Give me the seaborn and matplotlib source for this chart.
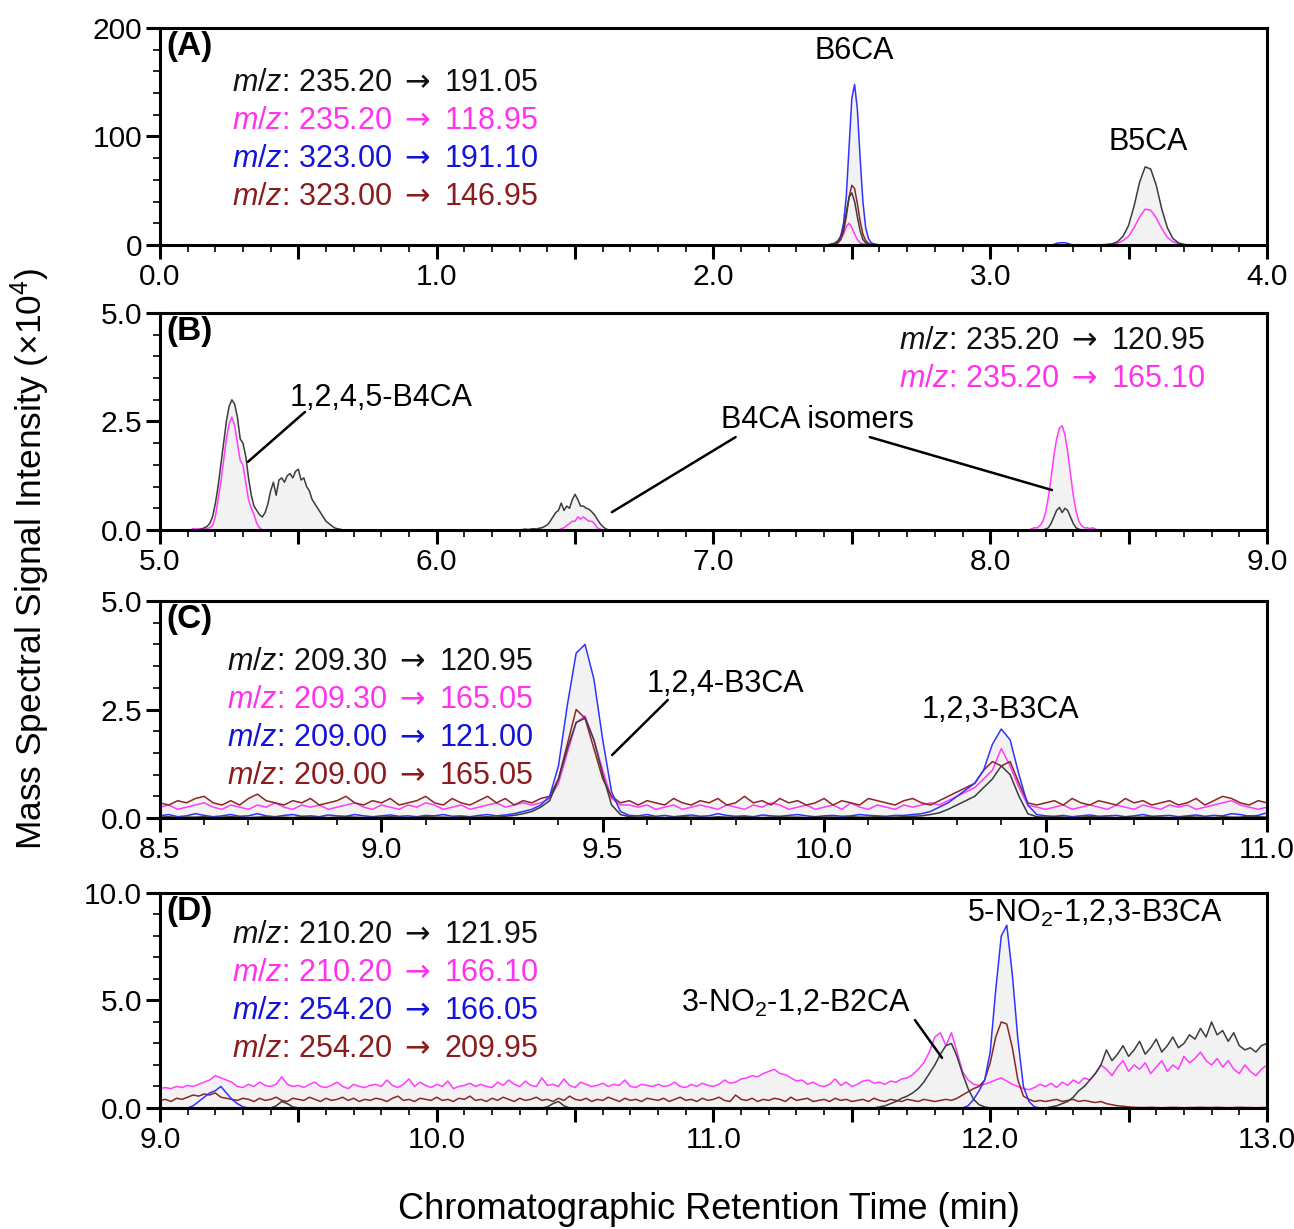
import numpy as np
import pandas as pd
import seaborn as sns
import matplotlib.pyplot as plt
import matplotlib.transforms as mtransforms
from matplotlib.ticker import MultipleLocator, FuncFormatter

sns.set_theme(style="ticks")
plt.rcParams["font.family"] = ["Liberation Sans", "DejaVu Sans"]
plt.rcParams["text.color"] = "black"
plt.rcParams["mathtext.fontset"] = "custom"
plt.rcParams["mathtext.rm"] = "Liberation Sans"
plt.rcParams["mathtext.it"] = "Liberation Sans:italic"
plt.rcParams["mathtext.bf"] = "Liberation Sans:bold"
plt.rcParams["mathtext.sf"] = "DejaVu Sans"

line_colors = {"black": "#3c3c3c", "pink": "#ff3cff", "blue": "#3232ff", "brown": "#8b2626"}
text_colors = {"black": "#111111", "pink": "#ff33ee", "blue": "#1414d8", "brown": "#8c1c1c"}
draw_order = ["pink", "brown", "blue", "black"]
FS = 22
TICK_FS = 21.5

# ---------------- panel A (B6CA / B5CA) ----------------
a_b6_start, a_b6_step = 2.40, 0.01
a_b6_black = [0, 0, 0.5, 1, 2, 4, 8, 16, 30, 44, 48, 40, 26, 13, 5, 2, 1, 0.5, 0.2, 0, 0, 0, 0]
a_b6_pink = [0, 0, 0, 0.5, 1, 2, 5, 10, 17, 20, 16, 10, 5, 2, 1, 0.5, 0, 0, 0, 0, 0, 0, 0]
a_b6_blue = [0, 0, 0, 0.5, 1, 3, 8, 20, 45, 90, 135, 148, 125, 80, 40, 16, 6, 2, 1, 0.5, 0, 0, 0]
a_b6_brown = [0, 0, 0, 0.5, 1, 2, 5, 12, 26, 44, 55, 52, 38, 22, 10, 4, 1.5, 0.5, 0.2, 0, 0, 0, 0]
a_blip_start, a_blip_step = 3.22, 0.01
a_blip_blue = [0, 0.5, 1.5, 2, 2, 2, 1.5, 0.5, 0]
a_b5_start, a_b5_step = 3.40, 0.02
a_b5_black = [0, 0.5, 1, 3, 8, 18, 36, 58, 72, 70, 55, 33, 16, 6, 2, 0.5, 0, 0]
a_b5_pink = [0, 0, 0.5, 1.5, 4, 8, 16, 26, 33, 32, 25, 15, 7, 3, 1, 0.3, 0, 0]

# ---------------- panel B (B4CA) ----------------
b1_start, b1_step = 5.10, 0.01
b1_black = [0, 0, 0, 0, 0, 0.02, 0.05, 0.08, 0.15, 0.3,
            0.6, 1.0, 1.5, 2.0, 2.5, 2.85, 3.0, 2.9, 2.6, 2.1,
            2.0, 1.7, 1.2, 0.8, 0.55, 0.45, 0.35, 0.3, 0.4, 0.6,
            0.9, 1.1, 0.8, 1.15, 1.2, 1.1, 1.25, 1.3, 1.2, 1.35,
            1.4, 1.15, 1.2, 1.0, 0.9, 0.7, 0.6, 0.5, 0.4, 0.3,
            0.2, 0.15, 0.1, 0.05, 0.03, 0.02, 0, 0, 0, 0, 0]
b1_pink = [0, 0, 0.03, 0.02, 0.03, 0.03, 0.02, 0.03, 0.05, 0.1,
           0.3, 0.7, 1.1, 1.6, 2.1, 2.45, 2.6, 2.4, 2.0, 1.6,
           1.5, 1.1, 0.7, 0.5, 0.35, 0.15, 0.05, 0, 0, 0,
           0, 0, 0, 0, 0, 0, 0, 0, 0, 0,
           0, 0, 0, 0, 0, 0, 0, 0, 0, 0,
           0, 0, 0, 0, 0, 0, 0, 0, 0, 0, 0]
b2_start, b2_step = 6.30, 0.01
b2_black = [0, 0.01, 0.02, 0.01, 0.02, 0.03, 0.02, 0.04, 0.05, 0.08,
            0.12, 0.2, 0.3, 0.4, 0.45, 0.62, 0.45, 0.55, 0.5, 0.7,
            0.82, 0.7, 0.55, 0.55, 0.5, 0.48, 0.42, 0.35, 0.25, 0.15,
            0.08, 0.03, 0]
b2_pink = [0, 0, 0, 0, 0, 0, 0, 0, 0, 0,
           0, 0, 0, 0, 0, 0.03, 0.05, 0.1, 0.15, 0.2,
           0.2, 0.3, 0.25, 0.3, 0.25, 0.2, 0.2, 0.15, 0.05, 0.02,
           0, 0, 0]
b3_start, b3_step = 8.14, 0.01
b3_pink = [0, 0.03, 0.05, 0.05, 0.1, 0.2, 0.4, 0.75, 1.2, 1.7,
           2.1, 2.35, 2.4, 2.2, 1.8, 1.3, 0.8, 0.45, 0.2, 0.1,
           0.05, 0.05, 0.03, 0.05, 0.02, 0, 0]
b3_black = [0, 0, 0, 0, 0, 0, 0.02, 0.05, 0.15, 0.3,
            0.45, 0.52, 0.4, 0.5, 0.45, 0.3, 0.15, 0.05, 0.02, 0,
            0, 0, 0, 0, 0, 0, 0]

# ---------------- panel C (B3CA), 8.50-11.00 every 0.02 min ----------------
c_start, c_step = 8.50, 0.02
c_brown = [0.35, 0.3, 0.4, 0.35, 0.45, 0.5, 0.35, 0.3, 0.4, 0.3,
           0.45, 0.55, 0.4, 0.35, 0.3, 0.4, 0.35, 0.45, 0.3, 0.35,
           0.4, 0.5, 0.35, 0.3, 0.4,
           0.35, 0.45, 0.3, 0.35, 0.4, 0.5, 0.35, 0.3, 0.45, 0.35,
           0.3, 0.4, 0.5, 0.35, 0.45, 0.3, 0.4,
           0.35, 0.45, 0.5, 0.9, 1.7, 2.5, 2.3, 1.6, 0.9, 0.5, 0.35, 0.4,
           0.3, 0.4, 0.35, 0.3, 0.45, 0.35, 0.3, 0.4, 0.35, 0.45,
           0.3, 0.35, 0.5, 0.35, 0.4, 0.3, 0.45, 0.35, 0.4, 0.3,
           0.35, 0.45, 0.3, 0.4, 0.35, 0.3, 0.45, 0.4, 0.35, 0.3,
           0.4, 0.45, 0.35, 0.3,
           0.4, 0.5, 0.6, 0.7, 0.8, 1.1, 1.3, 1.2, 1.3, 0.8, 0.35, 0.3,
           0.35, 0.4, 0.3, 0.45, 0.35, 0.3, 0.4, 0.35, 0.3, 0.45,
           0.35, 0.4, 0.3, 0.35, 0.4, 0.3, 0.35, 0.45, 0.3, 0.4,
           0.5, 0.45, 0.35, 0.3, 0.4, 0.35]
c_pink = [0.25, 0.3, 0.2, 0.25, 0.3, 0.35, 0.25, 0.2, 0.3, 0.25,
          0.2, 0.3, 0.25, 0.35, 0.25, 0.2, 0.3, 0.25, 0.3, 0.2,
          0.25, 0.3, 0.35, 0.25, 0.2,
          0.3, 0.25, 0.2, 0.3, 0.25, 0.35, 0.3, 0.2, 0.25, 0.3,
          0.2, 0.25, 0.3, 0.35, 0.25, 0.3, 0.35,
          0.3, 0.35, 0.45, 0.8, 1.5, 2.2, 2.35, 1.8, 1.1, 0.45, 0.3, 0.3,
          0.25, 0.3, 0.2, 0.25, 0.3, 0.2, 0.25, 0.3, 0.25, 0.2,
          0.3, 0.25, 0.2, 0.3, 0.25, 0.35, 0.3, 0.2, 0.25, 0.3,
          0.2, 0.25, 0.3, 0.2, 0.35, 0.25, 0.2, 0.3, 0.25, 0.2,
          0.3, 0.25, 0.3, 0.35,
          0.3, 0.4, 0.5, 0.6, 0.7, 0.9, 1.1, 1.6, 1.2, 0.7, 0.3, 0.25,
          0.2, 0.25, 0.3, 0.2, 0.25, 0.3, 0.25, 0.2, 0.3, 0.25,
          0.2, 0.3, 0.25, 0.2, 0.3, 0.25, 0.3, 0.2, 0.25, 0.3,
          0.35, 0.4, 0.3, 0.25, 0.2, 0.25]
c_blue = [0.05, 0.08, 0.03, 0.05, 0.1, 0.06, 0.03, 0.05, 0.08, 0.04,
          0.05, 0.1, 0.05, 0.03, 0.06, 0.08, 0.04, 0.05, 0.03, 0.07,
          0.05, 0.04, 0.08, 0.05, 0.03,
          0.05, 0.07, 0.04, 0.05, 0.03, 0.06, 0.05, 0.08, 0.04, 0.05,
          0.03, 0.06, 0.08, 0.05, 0.07, 0.1, 0.15,
          0.2, 0.3, 0.5, 1.2, 2.6, 3.8, 4.0, 3.2, 1.8, 0.6, 0.15, 0.06,
          0.05, 0.08, 0.04, 0.06, 0.03, 0.05, 0.07, 0.04, 0.05, 0.1,
          0.06, 0.04, 0.05, 0.03, 0.07, 0.05, 0.04, 0.06, 0.08, 0.05,
          0.03, 0.05, 0.06, 0.04, 0.05, 0.08, 0.06, 0.05, 0.04, 0.06,
          0.06, 0.08, 0.1, 0.15,
          0.25, 0.35, 0.5, 0.65, 0.8, 1.1, 1.7, 2.05, 1.8, 1.0, 0.3, 0.08,
          0.05, 0.04, 0.06, 0.03, 0.05, 0.07, 0.04, 0.05, 0.06, 0.03,
          0.05, 0.08, 0.04, 0.05, 0.06, 0.03, 0.05, 0.07, 0.04, 0.06,
          0.05, 0.1, 0.08, 0.04, 0.06, 0.12]
c_black = [0.02, 0.03, 0.01, 0.02, 0.02, 0.03, 0.01, 0.02, 0.03, 0.02,
           0.01, 0.02, 0.03, 0.02, 0.02, 0.01, 0.03, 0.02, 0.02, 0.01,
           0.02, 0.03, 0.02, 0.01, 0.02,
           0.02, 0.03, 0.02, 0.01, 0.02, 0.03, 0.02, 0.02, 0.01, 0.03,
           0.02, 0.02, 0.03, 0.02, 0.04, 0.06, 0.1,
           0.15, 0.25, 0.4, 0.9, 1.6, 2.2, 2.3, 1.8, 1.0, 0.3, 0.08, 0.03,
           0.02, 0.03, 0.02, 0.01, 0.02, 0.03, 0.02, 0.02, 0.01, 0.03,
           0.02, 0.02, 0.03, 0.02, 0.01, 0.02, 0.03, 0.02, 0.02, 0.01,
           0.03, 0.02, 0.02, 0.01, 0.03, 0.02, 0.02, 0.03, 0.02, 0.02,
           0.03, 0.04, 0.05, 0.08,
           0.12, 0.2, 0.3, 0.4, 0.5, 0.7, 0.9, 1.2, 1.0, 0.5, 0.1, 0.03,
           0.02, 0.03, 0.02, 0.01, 0.02, 0.03, 0.02, 0.02, 0.01, 0.03,
           0.02, 0.02, 0.03, 0.02, 0.01, 0.02, 0.03, 0.02, 0.02, 0.01,
           0.03, 0.02, 0.02, 0.05, 0.03, 0.02]

# ---------------- panel D (NO2-BnCA), 9.00-13.00 every 0.02 min ----------------
d_start, d_step = 9.00, 0.02
d_pink = [0.9, 0.95, 0.9, 1.0, 0.95, 1.05, 1.0, 1.1, 1.2, 1.3,
          1.5, 1.4, 1.3, 1.2, 1.0, 0.95, 1.1, 1.0, 1.2, 1.05,
          1.0, 1.1, 1.45, 1.1, 1.0, 1.05, 0.95, 1.1, 1.2, 1.0,
          0.95, 1.05, 1.2, 1.0, 0.9, 1.1, 1.0, 0.95, 1.05, 1.1,
          1.0, 1.3, 1.05, 0.95, 1.1, 1.35, 1.0, 1.2, 1.05, 0.95,
          1.1, 1.0, 1.25, 0.9, 1.0, 1.05, 1.15, 1.0, 1.1, 1.0,
          0.95, 1.2, 1.05, 1.3, 1.1, 1.0, 1.25, 1.05, 1.0, 1.4,
          1.05, 1.1, 1.0, 1.35, 1.05, 0.95, 1.2, 1.1, 1.0, 1.05,
          1.15, 1.0, 1.1, 1.05, 1.3, 1.0, 0.95, 1.1, 1.05, 1.0,
          1.1, 1.0, 1.05, 1.2, 1.0, 0.95, 1.1, 1.0, 1.15, 1.05,
          1.0, 1.1, 1.3, 1.15, 1.2, 1.35, 1.4, 1.5, 1.45, 1.6,
          1.7, 1.8, 1.6, 1.55, 1.4, 1.25, 1.3, 1.1, 1.2, 1.05,
          1.0, 1.1, 1.35, 1.05, 1.2, 1.0, 1.1, 1.25, 1.3, 1.15,
          1.2, 1.1, 1.25, 1.2, 1.35, 1.4, 1.55, 1.8, 2.1, 2.6,
          3.3, 3.5, 2.9, 3.5, 2.6, 1.7, 1.3, 1.1, 1.05, 1.1,
          1.2, 1.3, 1.4, 1.25, 1.1, 1.0, 0.9, 0.85, 0.95, 1.1,
          1.0, 1.15, 0.95, 1.2, 1.05, 1.3, 1.15, 1.4, 1.3, 1.6,
          2.0, 1.8, 1.5, 1.9, 2.2, 1.7, 2.0, 1.8, 2.1, 1.6,
          1.9, 2.2, 1.7, 2.0, 1.8, 2.4, 2.1, 2.3, 2.6, 2.2,
          2.0, 2.3, 1.9, 2.2, 1.8, 1.6, 2.0, 1.7, 1.5, 1.8,
          2.0]
d_brown = [0.35, 0.4, 0.3, 0.45, 0.4, 0.5, 0.6, 0.55, 0.65, 0.6,
           0.7, 0.5, 0.45, 0.4, 0.35, 0.45, 0.4, 0.3, 0.45, 0.35,
           0.4, 0.5, 0.35, 0.3, 0.45, 0.4, 0.35, 0.5, 0.4, 0.3,
           0.45, 0.35, 0.4, 0.5, 0.35, 0.45, 0.3, 0.4, 0.35, 0.45,
           0.4, 0.3, 0.45, 0.55, 0.35, 0.4, 0.3, 0.45, 0.4, 0.35,
           0.5, 0.35, 0.4, 0.3, 0.45, 0.4, 0.55, 0.35, 0.4, 0.3,
           0.45, 0.35, 0.5, 0.4, 0.3, 0.45, 0.35, 0.4, 0.5, 0.35,
           0.4, 0.3, 0.45, 0.35, 0.55, 0.4, 0.35, 0.45, 0.3, 0.4,
           0.35, 0.5, 0.4, 0.3, 0.45, 0.35, 0.4, 0.3, 0.45, 0.4,
           0.35, 0.45, 0.3, 0.4, 0.5, 0.35, 0.4, 0.3, 0.45, 0.35,
           0.4, 0.5, 0.35, 0.3, 0.6, 0.4, 0.35, 0.45, 0.3, 0.4,
           0.35, 0.45, 0.4, 0.3, 0.5, 0.35, 0.4, 0.45, 0.3, 0.35,
           0.4, 0.3, 0.45, 0.35, 0.4, 0.3, 0.35, 0.4, 0.3, 0.45,
           0.35, 0.3, 0.4, 0.35, 0.3, 0.4, 0.35, 0.3, 0.4, 0.35,
           0.3, 0.35, 0.4, 0.35, 0.45, 0.6, 0.75, 0.9, 1.0, 1.3,
           2.1, 3.3, 4.0, 3.9, 2.8, 1.3, 0.55, 0.4, 0.3, 0.35,
           0.3, 0.35, 0.4, 0.3, 0.35, 0.4, 0.3, 0.35, 0.3, 0.25,
           0.3, 0.2, 0.15, 0.1, 0.08, 0.05, 0.03, 0.02, 0.02, 0.03,
           0.02, 0.01, 0.02, 0.03, 0.02, 0.01, 0.02, 0.02, 0.03, 0.02,
           0.02, 0.03, 0.02, 0.01, 0.02, 0.03, 0.02, 0.02, 0.01, 0.02,
           0.02]
d_blue = ([0, 0, 0, 0, 0, 0, 0.1, 0.3, 0.5, 0.7,
           0.8, 1.0, 0.7, 0.4, 0.2, 0.05, 0, 0, 0, 0]
          + [0.0] * 120
          + [0, 0, 0, 0, 0, 0, 0.1, 0.4, 0.8, 1.3,
             2.6, 5.5, 8.0, 8.5, 6.2, 3.2, 1.0, 0.3, 0.05, 0]
          + [0.0] * 41)
d_black = ([0.0] * 20
           + [0, 0.1, 0.3, 0.2, 0.05, 0, 0, 0, 0, 0]
           + [0.0] * 40
           + [0.05, 0.2, 0.3, 0.1, 0, 0, 0, 0, 0, 0]
           + [0.0] * 50
           + [0.05, 0.1, 0.2, 0.3, 0.45, 0.55, 0.7, 0.9, 1.2, 1.6,
              2.0, 2.5, 2.9, 3.0, 2.4, 1.6, 0.9, 0.4, 0.15, 0.05]
           + [0.0] * 10
           + [0, 0.05, 0.1, 0.2, 0.3, 0.5, 0.8, 1.0, 1.3, 1.6,
              2.0, 2.7, 2.2, 2.5, 2.9, 2.4, 2.7, 3.1, 2.5, 2.8,
              3.2, 2.6, 2.9, 3.3, 2.8, 3.0, 3.4, 3.2, 3.7, 3.3,
              4.0, 3.4, 3.6, 3.1, 3.5, 2.9, 2.7, 2.8, 2.6, 2.9,
              3.0])

# transition labels
a_labels = [("black", "235.20", "191.05"), ("pink", "235.20", "118.95"),
            ("blue", "323.00", "191.10"), ("brown", "323.00", "146.95")]
b_labels = [("black", "235.20", "120.95"), ("pink", "235.20", "165.10")]
c_labels = [("black", "209.30", "120.95"), ("pink", "209.30", "165.05"),
            ("blue", "209.00", "121.00"), ("brown", "209.00", "165.05")]
d_labels = [("black", "210.20", "121.95"), ("pink", "210.20", "166.10"),
            ("blue", "254.20", "166.05"), ("brown", "254.20", "209.95")]


def build(traces):
    parts = []
    for ch, segs in traces.items():
        for start, step, vals in segs:
            t = start + step * np.arange(len(vals))
            parts.append(pd.DataFrame({"time": t, "signal": vals, "channel": ch}))
    return pd.concat(parts, ignore_index=True)


df_a = build({
    "black": [(a_b6_start, a_b6_step, a_b6_black), (a_b5_start, a_b5_step, a_b5_black)],
    "pink": [(a_b6_start, a_b6_step, a_b6_pink), (a_b5_start, a_b5_step, a_b5_pink)],
    "blue": [(a_b6_start, a_b6_step, a_b6_blue), (a_blip_start, a_blip_step, a_blip_blue)],
    "brown": [(a_b6_start, a_b6_step, a_b6_brown)],
})
df_b = build({
    "black": [(b1_start, b1_step, b1_black), (b2_start, b2_step, b2_black), (b3_start, b3_step, b3_black)],
    "pink": [(b1_start, b1_step, b1_pink), (b2_start, b2_step, b2_pink), (b3_start, b3_step, b3_pink)],
})
df_c = build({ch: [(c_start, c_step, v)] for ch, v in
               [("black", c_black), ("pink", c_pink), ("blue", c_blue), ("brown", c_brown)]})
df_d = build({ch: [(d_start, d_step, v)] for ch, v in
               [("black", d_black), ("pink", d_pink), ("blue", d_blue), ("brown", d_brown)]})


def int_only(v, pos):
    return "%.1f" % v if abs(v - round(v)) < 1e-6 else ""


def draw_panel(ax, df, xlim, ylim, yfmt, ymajor, yminor, label_every_half=False):
    present = [c for c in draw_order if c in set(df["channel"])]
    for ch in present:
        sub = df[df["channel"] == ch].sort_values("time")
        ax.fill_between(sub["time"], 0, sub["signal"], color="#f2f2f2", lw=0, zorder=0.5)
    sns.lineplot(data=df, x="time", y="signal", hue="channel", hue_order=present,
                 palette=line_colors, estimator=None, legend=False, ax=ax, lw=1.1)
    ax.set_xlim(*xlim)
    ax.set_ylim(*ylim)
    ax.set_xlabel("")
    ax.set_ylabel("")
    ax.xaxis.set_major_locator(MultipleLocator(0.5))
    ax.xaxis.set_minor_locator(MultipleLocator(0.1))
    if label_every_half:
        ax.xaxis.set_major_formatter(FuncFormatter(lambda v, p: "%.1f" % v))
    else:
        ax.xaxis.set_major_formatter(FuncFormatter(int_only))
    ax.yaxis.set_major_locator(MultipleLocator(ymajor))
    ax.yaxis.set_minor_locator(MultipleLocator(yminor))
    ax.yaxis.set_major_formatter(FuncFormatter(lambda v, p: yfmt % v))
    ax.tick_params(which="major", direction="out", length=10, width=2.2, labelsize=TICK_FS,
                   pad=3, colors="black")
    ax.tick_params(which="minor", direction="out", length=5, width=1.2, colors="black")
    for sp in ax.spines.values():
        sp.set_visible(True)
        sp.set_linewidth(2.2)
        sp.set_color("black")
        sp.set_zorder(5)


def mz_text(ax, x, y, labels, ha="left", dy=0.175):
    for k, (ch, a, b) in enumerate(labels):
        ax.text(x, y - k * dy, "$m/z$: %s $\\mathsf{\\rightarrow}$ %s" % (a, b),
                transform=ax.transAxes, fontsize=FS, color=text_colors[ch], ha=ha, va="center")


def pointer(ax, start, end):
    ax.annotate("", xy=end, xytext=start,
                arrowprops=dict(arrowstyle="-", color="black", lw=1.8, shrinkA=0, shrinkB=0))


fig = plt.figure(figsize=(12.94, 12.29), dpi=100)
left, width = 0.1236, 0.8555
ax_a = fig.add_axes([left, 0.8007, width, 0.1765])
ax_b = fig.add_axes([left, 0.5688, width, 0.1765])
ax_c = fig.add_axes([left, 0.3344, width, 0.1766])
ax_d = fig.add_axes([left, 0.0985, width, 0.1749])

draw_panel(ax_a, df_a, (0, 4), (0, 200), "%d", 100, 20)
draw_panel(ax_b, df_b, (5, 9), (0, 5), "%.1f", 2.5, 0.5)
draw_panel(ax_c, df_c, (8.5, 11), (0, 5), "%.1f", 2.5, 0.5, label_every_half=True)
draw_panel(ax_d, df_d, (9, 13), (0, 10), "%.1f", 5, 1)

for ax, tag in zip([ax_a, ax_b, ax_c, ax_d], ["(A)", "(B)", "(C)", "(D)"]):
    ax.text(0.006, 0.985, tag, transform=ax.transAxes, fontsize=24, fontweight="bold",
            ha="left", va="top")

# panel A
mz_text(ax_a, 0.065, 0.747, a_labels)
ax_a.text(2.51, 165, "B6CA", fontsize=FS, ha="center", va="bottom")
ax_a.text(3.57, 81, "B5CA", fontsize=FS, ha="center", va="bottom")

# panel B
mz_text(ax_b, 0.944, 0.871, b_labels, ha="right")
ax_b.text(5.47, 3.04, "1,2,4,5-B4CA", fontsize=FS, ha="left", va="center")
pointer(ax_b, (5.524, 2.72), (5.318, 1.57))
ax_b.text(7.374, 2.53, "B4CA isomers", fontsize=FS, ha="center", va="center")
pointer(ax_b, (7.08, 2.14), (6.633, 0.41))
pointer(ax_b, (7.565, 2.14), (8.223, 0.92))

# panel C
mz_text(ax_c, 0.061, 0.719, c_labels)
ax_c.text(9.778, 3.09, "1,2,4-B3CA", fontsize=FS, ha="center", va="center")
pointer(ax_c, (9.647, 2.72), (9.521, 1.45))
ax_c.text(10.397, 2.49, "1,2,3-B3CA", fontsize=FS, ha="center", va="center")

# panel D
mz_text(ax_d, 0.065, 0.805, d_labels, dy=0.177)
ax_d.text(11.30, 4.88, "3-NO$_2$-1,2-B2CA", fontsize=FS, ha="center", va="center")
pointer(ax_d, (11.728, 4.09), (11.826, 2.33))
ax_d.text(12.378, 9.07, "5-NO$_2$-1,2,3-B3CA", fontsize=FS, ha="center", va="center")

fig.text(0.023, 0.545, "Mass Spectral Signal Intensity (\u00d710$^4$)", rotation=90,
         fontsize=25.5, ha="center", va="center")
fig.text(0.548, 0.0155, "Chromatographic Retention Time (min)", fontsize=26,
         ha="center", va="center")

fig.savefig("out.png", dpi=100)
